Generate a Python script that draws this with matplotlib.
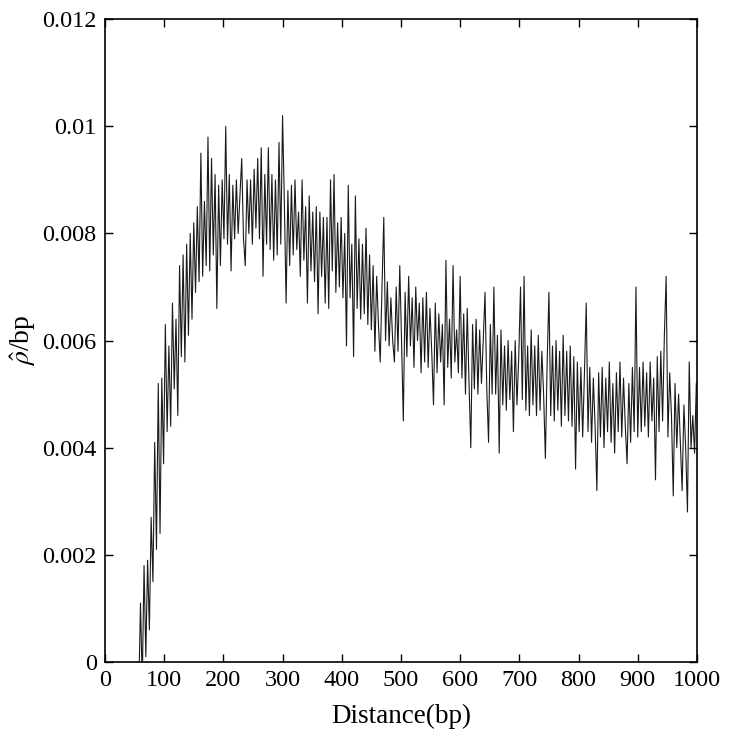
#!/usr/bin/env python3
"""recombination rate estimate vs distance"""

import matplotlib
matplotlib.use("Agg")
import matplotlib.pyplot as plt
import numpy as np

# distance grid (bp) and rho-hat per bp, values read in units of 1e-3
distance = np.arange(57, 1000, 3)
rho_milli = [
    -0.6, 1.1, -0.4, 1.8, 0.1, 1.9, 0.6, 2.7, 1.5, 4.1,
    2.1, 5.2, 2.4, 5.3, 3.7, 6.3, 4.3, 5.9, 4.4, 6.7,
    5.1, 6.4, 4.6, 7.4, 5.7, 7.6, 5.6, 7.8, 6.1, 8.0,
    6.4, 8.2, 6.9, 8.5, 7.1, 9.5, 7.2, 8.6, 7.4, 9.8,
    7.3, 9.4, 7.6, 9.1, 6.6, 8.9, 7.4, 9.0, 7.9, 10.0,
    7.8, 9.1, 7.3, 8.9, 7.9, 9.0, 8.0, 8.7, 9.4, 7.9,
    7.4, 9.0, 8.0, 9.0, 7.8, 9.2, 8.1, 9.4, 7.9, 9.6,
    7.2, 9.1, 7.8, 9.6, 7.7, 9.1, 7.5, 9.0, 7.6, 9.7,
    7.8, 10.2, 8.6, 6.7, 8.8, 7.4, 8.9, 7.6, 9.0, 7.7,
    8.4, 7.2, 9.0, 7.5, 8.5, 6.7, 8.7, 7.3, 8.4, 7.1,
    8.5, 6.5, 8.4, 7.2, 8.3, 6.7, 8.3, 6.6, 9.0, 7.3,
    9.1, 6.9, 8.2, 7.0, 8.3, 6.8, 8.0, 5.9, 8.9, 6.8,
    7.8, 5.7, 8.7, 6.6, 7.9, 6.4, 7.8, 6.5, 8.1, 6.3,
    7.6, 6.2, 7.4, 5.8, 7.2, 6.3, 5.6, 7.0, 8.3, 6.0,
    7.1, 5.9, 6.8, 6.0, 5.6, 7.0, 5.8, 7.4, 6.0, 4.5,
    6.9, 5.7, 7.2, 5.9, 6.8, 5.5, 7.0, 6.0, 6.7, 5.4,
    6.8, 5.6, 6.9, 5.5, 6.6, 5.8, 4.8, 6.7, 5.4, 6.5,
    5.6, 6.3, 4.8, 7.5, 5.5, 6.4, 5.3, 7.4, 5.6, 6.2,
    5.4, 7.2, 5.3, 6.5, 5.0, 6.6, 5.2, 4.0, 6.3, 5.1,
    6.4, 5.0, 6.2, 5.2, 6.0, 6.9, 5.1, 4.1, 6.3, 5.0,
    7.0, 5.0, 6.1, 3.9, 6.2, 4.8, 5.9, 4.7, 6.0, 4.9,
    5.8, 4.3, 6.0, 4.8, 5.7, 7.0, 4.9, 7.2, 4.7, 5.9,
    4.6, 6.2, 4.8, 5.9, 4.6, 6.1, 4.7, 5.8, 5.0, 3.8,
    5.6, 6.9, 4.6, 5.9, 4.5, 6.0, 4.7, 5.8, 4.4, 6.1,
    4.6, 5.8, 4.5, 5.9, 4.4, 5.7, 3.6, 5.6, 4.3, 5.5,
    4.2, 5.4, 6.7, 4.3, 5.5, 4.1, 5.3, 4.4, 3.2, 5.4,
    4.2, 5.5, 4.0, 5.3, 4.3, 5.6, 4.1, 5.2, 3.9, 5.4,
    4.3, 5.6, 4.2, 5.3, 4.4, 3.7, 5.2, 4.1, 5.5, 4.3,
    7.0, 4.2, 5.5, 4.3, 5.6, 4.4, 5.4, 4.2, 5.6, 4.5,
    5.3, 3.4, 5.7, 4.3, 5.8, 4.5, 6.1, 7.2, 4.2, 5.4,
    4.6, 3.1, 5.2, 4.0, 5.0, 4.1, 3.2, 4.8, 4.0, 2.8,
    5.6, 4.0, 4.6, 3.9, 5.2,
]
rho = np.array(rho_milli) / 1000.0

x_ticks = list(range(0, 1001, 100))
y_ticks = [0, 0.002, 0.004, 0.006, 0.008, 0.010, 0.012]
y_tick_labels = ["0", "0.002", "0.004", "0.006", "0.008", "0.01", "0.012"]

plt.rcParams["font.family"] = ["Liberation Serif", "DejaVu Serif"]
plt.rcParams["mathtext.fontset"] = "stix"

fig = plt.figure(figsize=(7.29, 7.38), dpi=100)
ax = fig.add_axes([0.144, 0.103, 0.812, 0.871])
ax.plot(distance, rho, color="#1a1a1a", linewidth=0.8)

ax.set_xlim(0, 1000)
ax.set_ylim(0, 0.012)
ax.set_xticks(x_ticks)
ax.set_yticks(y_ticks)
ax.set_yticklabels(y_tick_labels)
ax.tick_params(direction="in", top=True, right=True, length=6, width=1,
               labelsize=17.5, pad=6)
for s in ax.spines.values():
    s.set_linewidth(1.2)

ax.set_xlabel("Distance(bp)", fontsize=19.5, labelpad=9)
ax.set_ylabel(r"$\hat{\rho}$/bp", fontsize=20, labelpad=3)

fig.savefig("out.png", dpi=100)
plt.close(fig)
